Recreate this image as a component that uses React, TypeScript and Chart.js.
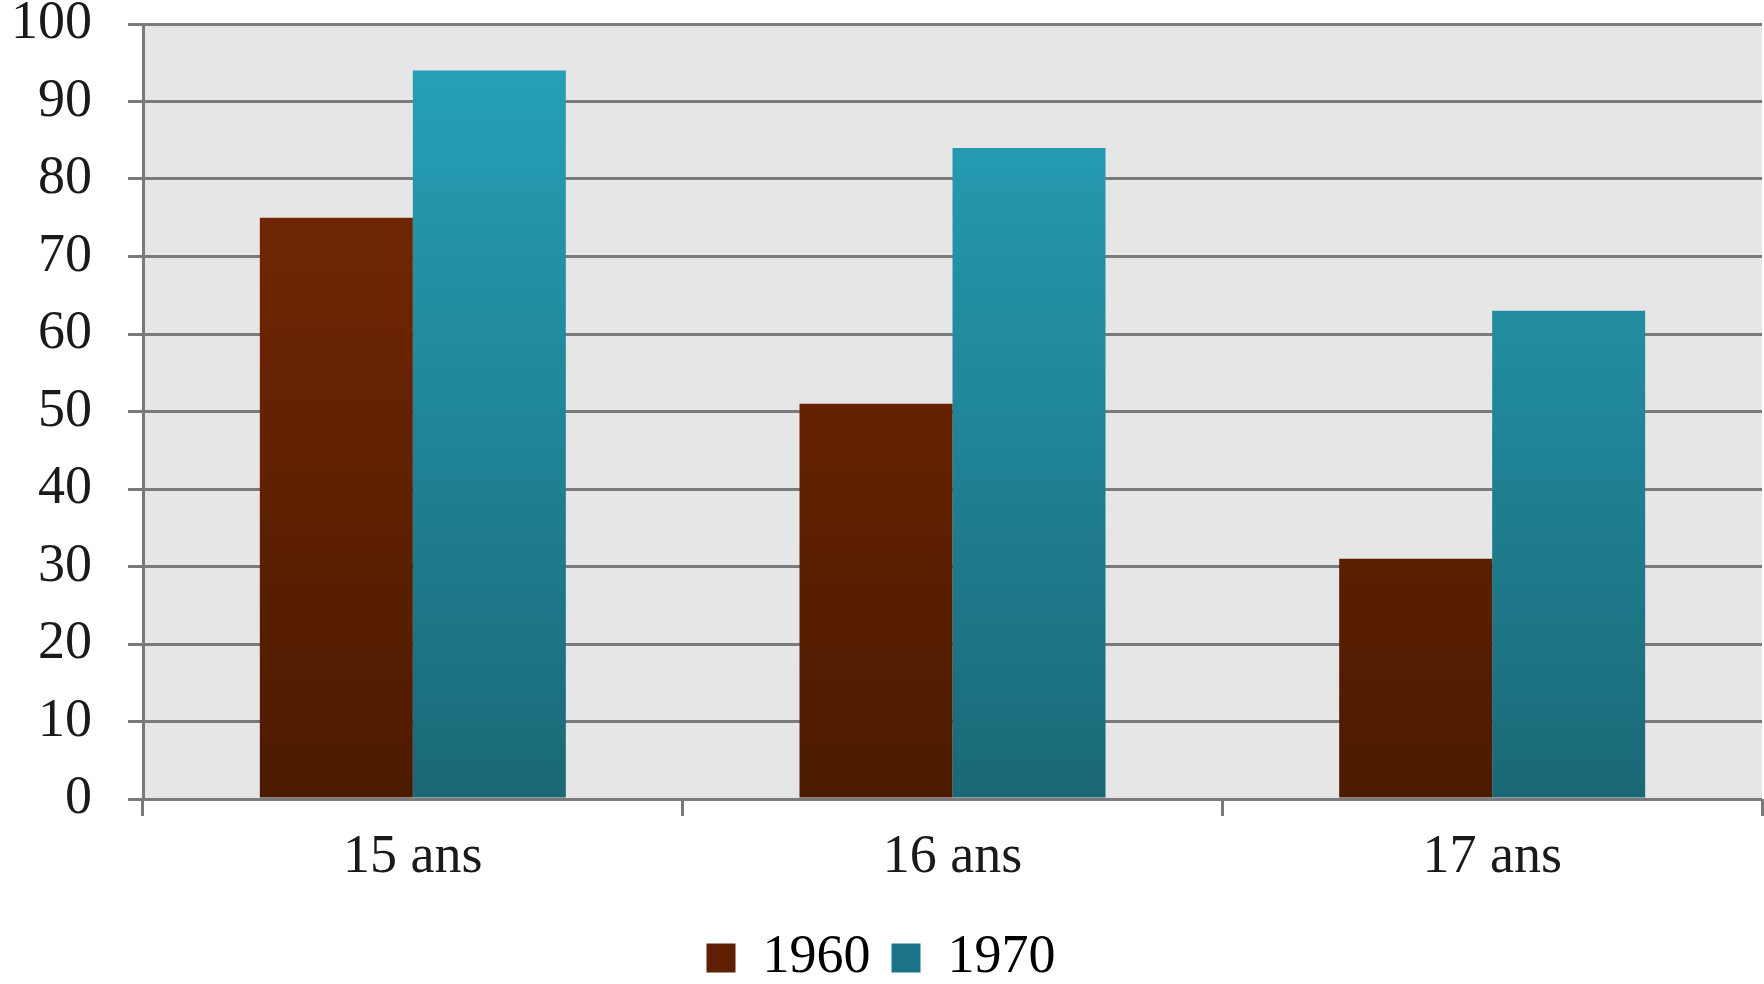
import React, { useEffect, useRef } from "react";
import { Chart, registerables } from "chart.js";

Chart.register(...registerables);

const categories = ["15 ans", "16 ans", "17 ans"];
const seriesNames = ["1960", "1970"];
const values1960 = [75, 51, 31];
const values1970 = [94, 84, 63];
const yMin = 0;
const yMax = 100;
const yStep = 10;

const FONT = "'Liberation Serif', 'DejaVu Serif', serif";

function gradient(chart: any, top: string, bottom: string, fallback: string) {
  const area = chart.chartArea;
  if (!area) return fallback;
  const g = chart.ctx.createLinearGradient(0, area.top, 0, area.bottom);
  g.addColorStop(0, top);
  g.addColorStop(1, bottom);
  return g;
}

const plotBg = {
  id: "plotBg",
  beforeDraw(chart: any) {
    const { ctx, chartArea } = chart;
    if (!chartArea) return;
    ctx.save();
    ctx.fillStyle = "#e6e6e6";
    ctx.fillRect(chartArea.left, chartArea.top, chartArea.right - chartArea.left, chartArea.bottom - chartArea.top);
    ctx.restore();
  },
};

export default function App() {
  const ref = useRef<HTMLCanvasElement | null>(null);
  useEffect(() => {
    document.body.style.margin = "0";
    const canvas = ref.current;
    if (!canvas) return;
    const chart = new Chart(canvas, {
      type: "bar",
      data: {
        labels: categories,
        datasets: [
          {
            label: seriesNames[0],
            data: values1960,
            backgroundColor: (c: any) => gradient(c.chart, "#7c2a04", "#4c1a00", "#6a2303"),
            categoryPercentage: 0.567,
            barPercentage: 1,
          },
          {
            label: seriesNames[1],
            data: values1970,
            backgroundColor: (c: any) => gradient(c.chart, "#26a3bb", "#1a6876", "#1f8598"),
            categoryPercentage: 0.567,
            barPercentage: 1,
          },
        ],
      },
      options: {
        responsive: false,
        animation: false,
        layout: { padding: { top: 24, right: 2, left: 0, bottom: -11 } },
        plugins: {
          tooltip: { enabled: false },
          legend: {
            position: "bottom",
            labels: {
              boxWidth: 29,
              boxHeight: 29,
              padding: 21,
              color: "#1a1a1a",
              font: { family: FONT, size: 54 },
              generateLabels: () => [
                { text: seriesNames[0], fillStyle: "#5e1f02", strokeStyle: "#5e1f02", lineWidth: 0, datasetIndex: 0 },
                { text: seriesNames[1], fillStyle: "#1b7486", strokeStyle: "#1b7486", lineWidth: 0, datasetIndex: 1 },
              ],
            },
          },
        },
        scales: {
          x: {
            afterFit: (scale: any) => {
              scale.height = 111;
            },
            grid: {
              drawOnChartArea: false,
              drawTicks: true,
              tickLength: 17,
              color: "#7a7a7a",
              lineWidth: 3,
            },
            border: { display: false },
            ticks: {
              color: "#1a1a1a",
              font: { family: FONT, size: 54 },
              padding: 9,
            },
          },
          y: {
            min: yMin,
            max: yMax,
            afterFit: (scale: any) => {
              scale.width = 143;
              scale.paddingTop = 0;
              scale.paddingBottom = 0;
            },
            grid: {
              color: "#7a7a7a",
              lineWidth: 3,
              tickLength: 15,
            },
            border: { display: true, color: "#7a7a7a", width: 3 },
            ticks: {
              stepSize: yStep,
              color: "#1a1a1a",
              font: { family: FONT, size: 54 },
              padding: 36,
            },
          },
        },
      },
      plugins: [plotBg],
    });
    return () => chart.destroy();
  }, []);
  return (
    <div style={{ position: "absolute", left: 0, top: 0, width: 1764, height: 984, background: "#fff" }}>
      <canvas ref={ref} width={1764} height={984} style={{ display: "block" }} />
    </div>
  );
}
